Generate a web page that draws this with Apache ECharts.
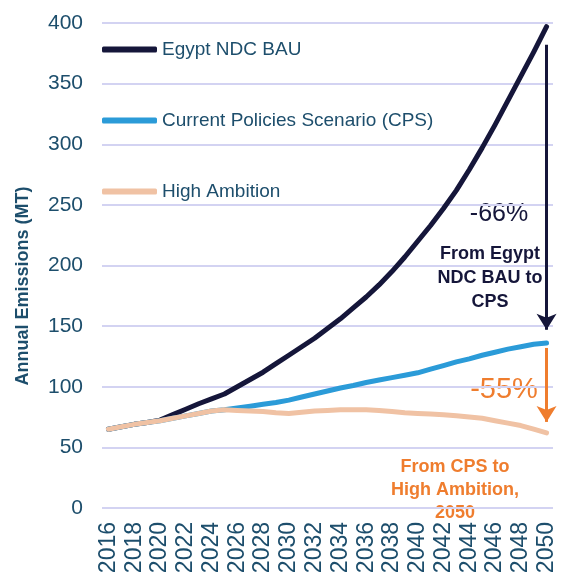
<!DOCTYPE html>
<html>
<head>
<meta charset="utf-8">
<script src="https://cdn.jsdelivr.net/npm/echarts@6/dist/echarts.min.js"></script>
<style>
  html, body { margin: 0; padding: 0; background: #fff; }
  #chart { width: 563px; height: 578px; }
</style>
</head>
<body>
<div id="chart"></div>
<script>
const years = []
for (let y = 2016; y <= 2050; y++) years.push(String(y))

const bau = [65, 67, 69, 70.5, 72.5, 77, 81.5, 86, 90, 94,
  100, 106, 112, 119, 126, 133, 140, 148, 156, 165,
  174, 184, 195, 207, 220, 233, 247, 262, 279, 297,
  316, 336, 356, 376, 397]
const cps = [65, 67, 69, 70.5, 72, 74, 76, 78, 80, 81,
  82.5, 84, 85.5, 87, 89, 91.5, 94, 96.5, 99, 101,
  103.5, 105.5, 107.5, 109.5, 111.5, 114.5, 117.5, 120.5, 123, 126,
  128.5, 131, 133, 135, 136]
const highAmbition = [65, 67, 69, 70.5, 72, 74, 76, 78, 80, 81,
  80.5, 80, 79.5, 78.5, 78, 79, 80, 80.5, 81, 81,
  81, 80.5, 79.5, 78.5, 78, 77.5, 77, 76, 75, 74,
  72, 70, 68, 65, 62]

// arrows: from / to values at 2050
const bauArrow = [382, 147]
const cpsArrow = [132, 71]

const navy = '#15163a'
const blue = '#2b9bd8'
const peach = '#f0c2a4'
const orange = '#ef7d2e'
const labelColor = '#1d4e6c'

const chart = echarts.init(document.getElementById('chart'))

const lineSeries = (name, data, color, extra) => Object.assign({
  name,
  type: 'line',
  data,
  showSymbol: false,
  symbol: 'none',
  lineStyle: { color, width: 5, cap: 'round', join: 'round' },
  itemStyle: { color },
  animation: false
}, extra || {})

chart.setOption({
  animation: false,
  textStyle: { fontFamily: 'Liberation Sans' },
  grid: { left: 102, right: 10, top: 23, bottom: 70 },
  legend: {
    orient: 'vertical',
    left: 97,
    top: 35,
    itemWidth: 55,
    itemHeight: 6,
    itemGap: 52,
    icon: 'roundRect',
    textStyle: { color: labelColor, fontSize: 19, fontFamily: 'Liberation Sans' },
    data: ['Egypt NDC BAU', 'Current Policies Scenario (CPS)', 'High Ambition']
  },
  xAxis: {
    type: 'category',
    data: years,
    boundaryGap: true,
    axisLine: { show: false },
    axisTick: { show: false },
    axisLabel: {
      interval: 1,
      rotate: 90,
      margin: 14,
      color: labelColor,
      fontSize: 23,
      fontFamily: 'Liberation Sans'
    }
  },
  yAxis: {
    type: 'value',
    min: 0,
    max: 400,
    interval: 50,
    axisLine: { show: false },
    axisTick: { show: false },
    axisLabel: { color: labelColor, fontSize: 21, margin: 19, fontFamily: 'Liberation Sans' },
    splitLine: { lineStyle: { color: '#d3d3f2', width: 2 } }
  },
  series: [
    lineSeries('Egypt NDC BAU', bau, navy, {
      markLine: {
        silent: true,
        symbol: ['none', 'arrow'],
        symbolSize: [15, 16],
        label: { show: false },
        lineStyle: { color: navy, width: 3, type: 'solid' },
        data: [[{ coord: ['2050', bauArrow[0]] }, { coord: ['2050', bauArrow[1]] }]]
      }
    }),
    lineSeries('Current Policies Scenario (CPS)', cps, blue, {
      markLine: {
        silent: true,
        symbol: ['none', 'arrow'],
        symbolSize: [15, 16],
        label: { show: false },
        lineStyle: { color: orange, width: 3, type: 'solid' },
        data: [[{ coord: ['2050', cpsArrow[0]] }, { coord: ['2050', cpsArrow[1]] }]]
      }
    }),
    lineSeries('High Ambition', highAmbition, peach)
  ],
  graphic: [
    {
      type: 'text',
      x: 23, y: 286,
      rotation: Math.PI / 2,
      style: {
        text: 'Annual Emissions (MT)',
        fill: labelColor,
        font: 'bold 18px "Liberation Sans"',
        align: 'center',
        verticalAlign: 'middle'
      }
    },
    {
      type: 'text',
      x: 499, y: 214,
      style: {
        text: '-66%',
        fill: navy,
        font: '25px "Liberation Sans"',
        align: 'center',
        verticalAlign: 'middle'
      }
    },
    {
      type: 'text',
      x: 490, y: 278,
      style: {
        text: 'From Egypt\nNDC BAU to\nCPS',
        fill: navy,
        font: 'bold 18px "Liberation Sans"',
        lineHeight: 24,
        align: 'center',
        verticalAlign: 'middle'
      }
    },
    {
      type: 'text',
      x: 504, y: 390,
      style: {
        text: '-55%',
        fill: orange,
        font: '29px "Liberation Sans"',
        align: 'center',
        verticalAlign: 'middle'
      }
    },
    {
      type: 'text',
      x: 455, y: 490,
      style: {
        text: 'From CPS to\nHigh Ambition,\n2050',
        fill: orange,
        font: 'bold 18px "Liberation Sans"',
        lineHeight: 23,
        align: 'center',
        verticalAlign: 'middle'
      }
    }
  ]
})
</script>
</body>
</html>
